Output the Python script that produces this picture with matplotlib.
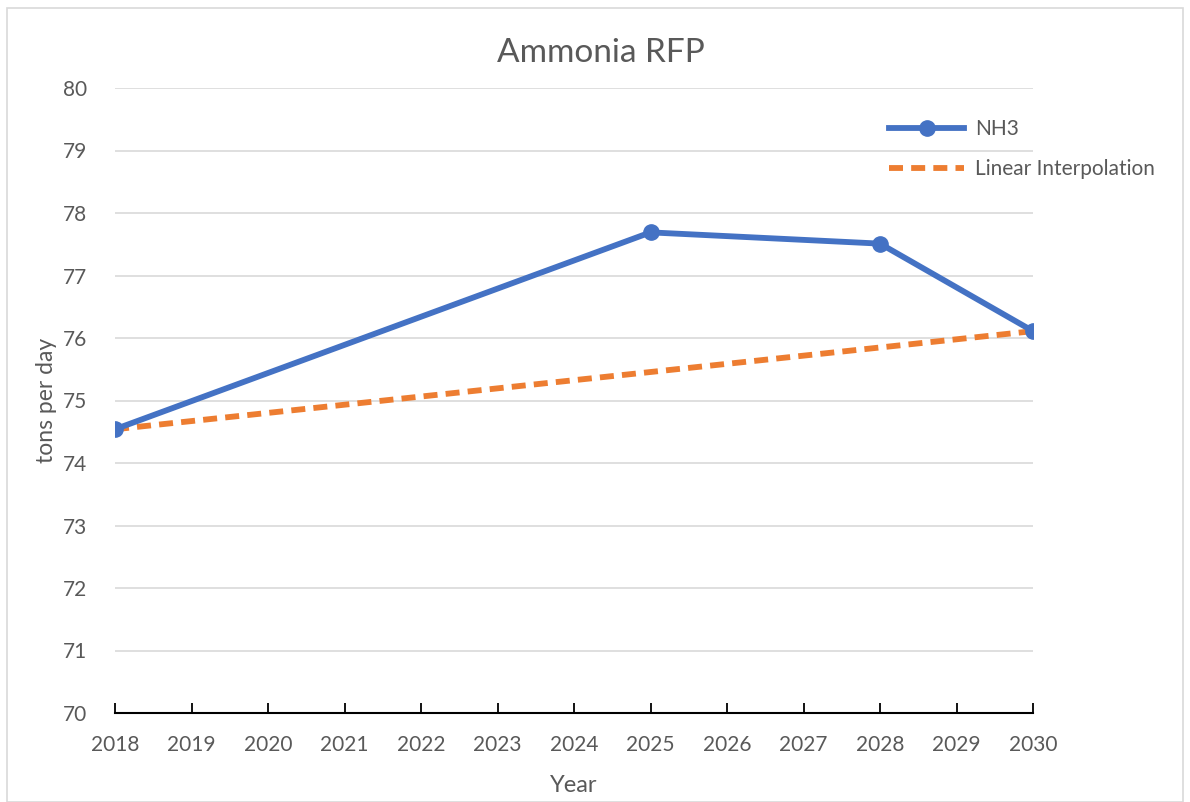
import matplotlib
matplotlib.use("Agg")
import matplotlib.pyplot as plt
from matplotlib.patches import Rectangle

# ── data ──────────────────────────────────────
years = list(range(2018, 2031))
nh3_years = [2018, 2025, 2028, 2030]
nh3_values = [74.54, 77.69, 77.51, 76.11]
interp_years = [2018, 2030]
interp_values = [74.54, 76.11]
y_ticks = list(range(70, 81))

TEXT = "#595959"
plt.rcParams["font.family"] = ["Lato", "DejaVu Sans"]

fig = plt.figure(figsize=(11.9, 8.02), dpi=100)
ax = fig.add_axes([115 / 1190, 1 - 713 / 802, (1033 - 115) / 1190, (713 - 88) / 802])

# chart border
fig.patches.append(Rectangle((7 / 1190, 0), 1 - 14 / 1190, 1 - 8 / 802,
                             transform=fig.transFigure, fill=False,
                             edgecolor="#D9D9D9", linewidth=1.2))

ax.plot(nh3_years, nh3_values, color="#4472C4", linewidth=4.2,
        marker="o", markersize=11, label="NH3", zorder=3)
ax.plot(interp_years, interp_values, color="#ED7D31", linewidth=4.2,
        linestyle=(0, (2.4, 1.4)), label="Linear Interpolation", zorder=2)

ax.set_xlim(2018, 2030)
ax.set_ylim(70, 80)
ax.set_xticks(years)
ax.set_yticks(y_ticks)
ax.grid(axis="y", color="#D9D9D9", linewidth=1.2)
ax.set_axisbelow(True)

for s in ["top", "right", "left"]:
    ax.spines[s].set_visible(False)
ax.spines["bottom"].set_color("black")
ax.spines["bottom"].set_linewidth(1.5)
ax.spines["bottom"].set_zorder(4)

ax.tick_params(axis="x", direction="in", length=7, width=1.3, color="black",
               labelsize=15, labelcolor=TEXT, pad=16)
ax.tick_params(axis="y", length=0, labelsize=15, labelcolor=TEXT, pad=20)

# title centred on the whole chart, not the plot area
fig.text(601 / 1190, 1 - 53 / 802, "Ammonia RFP", fontsize=24, color=TEXT,
         ha="center", va="center")
ax.set_xlabel("Year", fontsize=17, color=TEXT, labelpad=14)
ax.set_ylabel("tons per day", fontsize=16.5, color=TEXT, labelpad=4)

leg = ax.legend(loc="upper right", bbox_to_anchor=(1.153, 0.98), frameon=False,
                fontsize=15, handlelength=3.6, labelspacing=0.95, handletextpad=0.5)
for t in leg.get_texts():
    t.set_color(TEXT)

fig.savefig("out.png", dpi=100)
